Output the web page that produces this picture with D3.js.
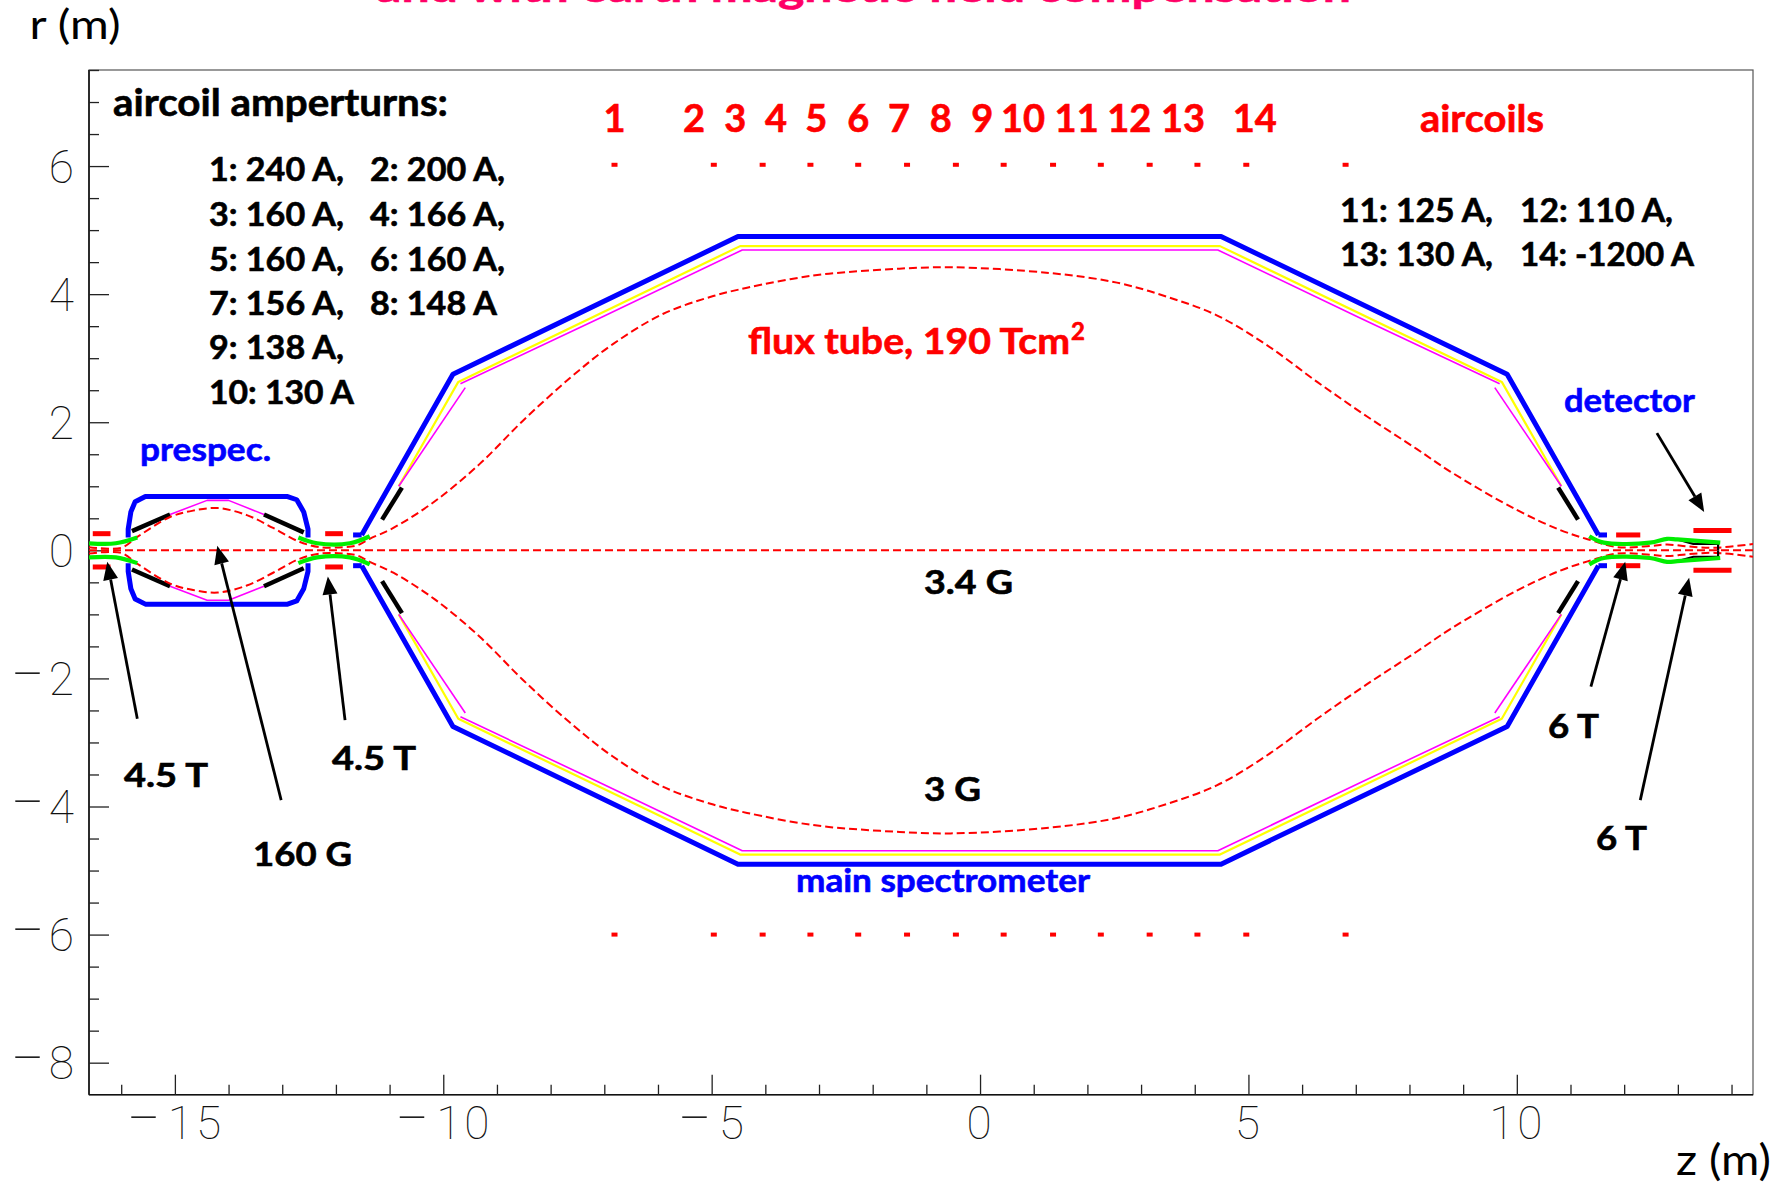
<!DOCTYPE html>
<html>
  <head>
    <meta charset="utf-8">
    <script src="https://cdnjs.cloudflare.com/ajax/libs/d3/7.8.5/d3.min.js"></script>
    <style type="text/css">
    body { margin: 0; background: white; }
    svg { display: block; }
    .note { font-family: Lato, sans-serif; font-weight: bold; stroke-width: 0.6; }
    .axis path { display: none; }
    .axis line { stroke: #222; stroke-width: 1.3; }
    .axis text { font-family: Roboto, sans-serif; font-weight: 100; font-size: 46px; fill: #111; }
    .axis--x text { letter-spacing: 3px; }
    </style>
  </head>
  <body>
    <script type="text/javascript">
      var w = 1785;
      var h = 1184;

      // axis ticks
      var zMajor = [-15, -10, -5, 0, 5, 10];
      var zMinor = [-16, -14, -13, -12, -11, -9, -8, -7, -6, -4, -3, -2, -1, 1, 2, 3, 4, 6, 7, 8, 9, 11, 12, 13, 14];
      var rMajor = [-8, -6, -4, -2, 0, 2, 4, 6];
      var rMinor = [-7.5, -7, -6.5, -5.5, -5, -4.5, -3.5, -3, -2.5, -1.5, -1, -0.5, 0.5, 1, 1.5, 2.5, 3, 3.5, 4.5, 5, 5.5, 6.5, 7, 7.5];

      // main vessel, upper half (the lower half is the mirror)
      var vesselZ = [-11.52, -9.82, -4.51, 4.49, 9.82, 11.52];
      var vesselR = [0.24, 2.75, 4.9, 4.9, 2.75, 0.24];
      var stubZ = [[-11.68, -11.52], [11.52, 11.68]];
      var stubR = [0.24, 0.24];
      var yellowZ = [-10.83, -9.72, -4.47, 4.47, 9.72, 10.83];
      var yellowR = [1.0, 2.63, 4.75, 4.75, 2.63, 1.0];
      var magentaZ = [-9.68, -7.05, -4.43, 4.43, 7.05, 9.68];
      var magentaR = [2.6, 3.64, 4.69, 4.69, 3.64, 2.6];
      var magentaSideZ = [[-10.83, -9.59], [10.83, 9.59]];
      var magentaSideR = [1.0, 2.54];
      var electrodeZ = [[-11.14, -10.77], [11.14, 10.77]];
      var electrodeR = [0.48, 0.98];

      // prespectrometer
      var preZ = [-15.87, -15.87, -15.82, -15.74, -15.55, -12.9, -12.73, -12.6, -12.52, -12.52];
      var preR = [0.2, 0.33, 0.6, 0.76, 0.84, 0.84, 0.79, 0.6, 0.33, 0.2];
      var preMagentaZ = [-15.09, -14.4, -14.0, -13.34];
      var preMagentaR = [0.56, 0.78, 0.78, 0.56];
      var preBlackZ = [[-15.8, -15.09], [-13.34, -12.6]];
      var preBlackR = [[0.3, 0.56], [0.56, 0.28]];

      // superconducting solenoid bore (green)
      var greenZ = [[-16.6, -16.1, -15.7], [-12.7, -12.35, -11.74, -11.37], [11.35, 11.62, 12.48, 12.8, 12.99, 13.79]];
      var greenR = [[0.11, 0.11, 0.2], [0.2, 0.11, 0.11, 0.22], [0.22, 0.12, 0.12, 0.18, 0.17, 0.12]];

      // detector outline
      var detZ = [12.99, 13.29, 13.75, 13.75];
      var detR = [0.17, 0.1, 0.1, 0];

      // solenoid coils
      var coilZ = [[-16.53, -16.2], [-12.2, -11.87], [11.85, 12.3], [13.29, 14.0]];
      var coilR = [0.26, 0.26, 0.24, 0.31];

      // aircoils
      var aircoilZ = [-6.81, -4.96, -4.05, -3.16, -2.27, -1.36, -0.45, 0.44, 1.36, 2.25, 3.16, 4.05, 4.96, 6.81];
      var aircoilR = [6.02, -6.0];

      // flux tube, upper half
      var fluxZ = [-16.6, -16.0, -15.7, -15.09, -14.66, -14.2, -13.66, -13.17, -12.7, -12.3, -11.87, -11.6, -11.37, -10.93, -10.15, -9.32, -8.52, -7.64, -6.84, -5.91, -4.97, -4.34, -3.11, -1.86, -0.55, 1.3, 2.55, 3.48, 4.41, 5.35, 6.28, 7.21, 8.14, 8.76, 10.0, 10.8, 11.37, 11.87, 12.5, 12.8, 13.2, 13.7, 14.4];
      var fluxR = [0.05, 0.04, 0.21, 0.52, 0.62, 0.66, 0.55, 0.35, 0.14, 0.05, 0.05, 0.08, 0.18, 0.35, 0.77, 1.35, 2.02, 2.69, 3.22, 3.69, 3.97, 4.1, 4.29, 4.38, 4.42, 4.33, 4.18, 3.96, 3.67, 3.2, 2.63, 2.09, 1.58, 1.23, 0.63, 0.32, 0.16, 0.05, 0.07, 0.09, 0.06, 0.04, 0.1];

      // arrows: tail and tip
      var arrowTailZ = [-15.7, -13.02, -11.83, 12.61, 11.38, 12.3];
      var arrowTailR = [-2.63, -3.9, -2.65, 1.83, -2.13, -3.9];
      var arrowTipZ = [-16.26, -14.21, -12.15, 13.49, 12.02, 13.21];
      var arrowTipR = [-0.18, 0.07, -0.41, 0.6, -0.18, -0.43];

      // texts
      var coilLabels = ["1", "2", "3", "4", "5", "6", "7", "8", "9", "10", "11", "12", "13", "14"];
      var coilLabelZ = [-6.81, -5.33, -4.56, -3.8, -3.05, -2.27, -1.51, -0.73, 0.04, 0.8, 1.8, 2.78, 3.78, 5.12];
      var noteText = ["aircoil amperturns:", "1: 240 A,", "2: 200 A,", "3: 160 A,", "4: 166 A,", "5: 160 A,", "6: 160 A,", "7: 156 A,", "8: 148 A", "9: 138 A,", "10: 130 A",
        "11: 125 A,", "12: 110 A,", "13: 130 A,", "14: -1200 A", "3.4 G", "3 G", "4.5 T", "4.5 T", "160 G", "6 T", "6 T"];
      var noteX = [113, 209, 370, 209, 370, 209, 370, 209, 370, 209, 209, 1340, 1520, 1340, 1520, 924, 924, 124, 332, 253, 1548, 1596];
      var noteY = [116, 181, 181, 226, 226, 271, 271, 315, 315, 359, 404, 222, 222, 266, 266, 594, 801, 787, 770, 866, 738, 850];
      var noteW = [335, 135, 135, 135, 135, 135, 135, 135, 127, 135, 145, 153, 153, 153, 174, 89, 57, 84, 84, 99, 51, 51];

      var svg = d3.select("body").append("svg")
                  .attr("width", w)
                  .attr("height", h);

      var x = d3.scaleLinear().domain([-16.6, 14.4]).range([89, 1753]);
      var y = d3.scaleLinear().domain([-8.5, 7.5]).range([1094.7, 70]);

      svg.append("clipPath").attr("id", "plot")
         .append("rect").attr("x", 89).attr("y", 70).attr("width", 1664).attr("height", 1024.7);

      // frame
      svg.append("rect").attr("x", 89).attr("y", 70).attr("width", 1664).attr("height", 1024.7)
         .attr("fill", "none").attr("stroke", "#555").attr("stroke-width", 1.2);
      svg.append("line").attr("x1", 89).attr("x2", 89).attr("y1", 70).attr("y2", 1094.7).attr("stroke", "#111").attr("stroke-width", 1.6);
      svg.append("line").attr("x1", 89).attr("x2", 1753).attr("y1", 1094.7).attr("y2", 1094.7).attr("stroke", "#111").attr("stroke-width", 1.6);

      // long thin minus like the original plot
      function wideMinus(g) {
        g.selectAll("text").each(function(d) {
          var t = d3.select(this).text(null);
          if (d < 0) t.append("tspan").attr("font-size", 60).text("\u2212");
          t.append("tspan").attr("dx", d < 0 ? 4 : 0).text(Math.abs(d));
        });
      }

      // axes
      svg.append("g").attr("class", "axis axis--x").attr("transform", "translate(0,1094.7)")
         .call(d3.axisBottom(x).tickValues(zMajor).tickSizeInner(-20).tickSizeOuter(0).tickPadding(12))
         .call(wideMinus);
      svg.append("g").attr("class", "axis").attr("transform", "translate(0,1094.7)")
         .call(d3.axisBottom(x).tickValues(zMinor).tickSizeInner(-10).tickSizeOuter(0).tickFormat(""));
      svg.append("g").attr("class", "axis").attr("transform", "translate(89,0)")
         .call(d3.axisLeft(y).tickValues(rMajor).tickSizeInner(-20).tickSizeOuter(0).tickPadding(15))
         .call(wideMinus)
         .selectAll("text").attr("dy", "0.35em");
      svg.append("g").attr("class", "axis").attr("transform", "translate(89,0)")
         .call(d3.axisLeft(y).tickValues(rMinor).tickSizeInner(-10).tickSizeOuter(0).tickFormat(""));

      var plot = svg.append("g").attr("clip-path", "url(#plot)");

      function trace(zs, rs, colour, width, sign, dash) {
        var line = d3.line().x(function(d) { return x(d[0]); }).y(function(d) { return y(sign * d[1]); });
        var path = plot.append("path")
            .attr("d", line(d3.zip(zs, rs)))
            .attr("fill", "none")
            .attr("stroke", colour)
            .attr("stroke-linejoin", "round")
            .attr("stroke-width", width);
        if (dash) path.attr("stroke-dasharray", dash);
        return path;
      }

      // both halves of a contour
      function both(zs, rs, colour, width, dash) {
        trace(zs, rs, colour, width, 1, dash);
        trace(zs, rs, colour, width, -1, dash);
      }

      function flat(v, n) { return d3.range(n).map(function() { return v; }); }

      // yellow, magenta, black then blue on top
      both(yellowZ, yellowR, "#ffff00", 2.2);
      both(magentaZ, magentaR, "#ff00ff", 1.6);
      magentaSideZ.forEach(function(z) { both(z, magentaSideR, "#ff00ff", 1.6); });
      electrodeZ.forEach(function(z) { both(z, electrodeR, "black", 4.5); });
      both(vesselZ, vesselR, "#0000ff", 5);
      stubZ.forEach(function(z) { both(z, stubR, "#0000ff", 5); });

      both(preZ, preR, "#0000ff", 5);
      both(preMagentaZ, preMagentaR, "#ff00ff", 1.6);
      preBlackZ.forEach(function(z, i) { both(z, preBlackR[i], "black", 4.5); });

      // flux tube and centre line
      var fluxLine = d3.line().curve(d3.curveCatmullRom)
                       .x(function(d) { return x(d[0]); });
      [1, -1].forEach(function(sign) {
        plot.append("path")
            .attr("d", fluxLine.y(function(d) { return y(sign * d[1]); })(d3.zip(fluxZ, fluxR)))
            .attr("fill", "none").attr("stroke", "#ff0000").attr("stroke-width", 2).attr("stroke-dasharray", "8,4");
      });
      trace([-16.6, 14.4], [0, 0], "#ff0000", 2, 1, "8,4");

      // coils
      coilZ.forEach(function(z, i) { both(z, flat(coilR[i], 2), "#ff0000", 5); });

      // detector
      both(detZ, detR, "black", 2.2);

      // green bore
      greenZ.forEach(function(z, i) {
        [1, -1].forEach(function(sign) {
          plot.append("path")
              .attr("d", fluxLine.y(function(d) { return y(sign * d[1]); })(d3.zip(z, greenR[i])))
              .attr("fill", "none").attr("stroke", "#00ee00").attr("stroke-width", 4.2);
        });
      });

      // aircoil markers
      aircoilR.forEach(function(r) {
        plot.selectAll(null).data(aircoilZ).enter().append("rect")
            .attr("x", function(d) { return x(d) - 3; })
            .attr("y", y(r) - 2)
            .attr("width", 6)
            .attr("height", 4)
            .attr("fill", "#ff0000");
      });

      // arrows
      arrowTipZ.forEach(function(tz, i) {
        var x0 = x(arrowTailZ[i]), y0 = y(arrowTailR[i]), x1 = x(tz), y1 = y(arrowTipR[i]);
        var len = Math.hypot(x1 - x0, y1 - y0), ux = (x1 - x0) / len, uy = (y1 - y0) / len;
        var bx = x1 - ux * 18, by = y1 - uy * 18;
        svg.append("line").attr("x1", x0).attr("y1", y0).attr("x2", bx).attr("y2", by)
           .attr("stroke", "black").attr("stroke-width", 2.8);
        svg.append("polygon")
           .attr("points", [[x1, y1], [bx - uy * 7.5, by + ux * 7.5], [bx + uy * 7.5, by - ux * 7.5]].join(" "))
           .attr("fill", "black");
      });

      function note(text, px, py, width, size, colour) {
        return svg.append("text").attr("class", "note")
           .attr("x", px).attr("y", py)
           .attr("font-size", size).attr("fill", colour).attr("stroke", colour)
           .attr("textLength", width).attr("lengthAdjust", "spacingAndGlyphs")
           .text(text);
      }

      noteText.forEach(function(t, i) {
        note(t, noteX[i], noteY[i], noteW[i], i == 0 ? 38 : 33, "black");
      });

      coilLabels.forEach(function(t, i) {
        svg.append("text").attr("class", "note").attr("x", x(coilLabelZ[i])).attr("y", 132)
           .attr("text-anchor", "middle").attr("font-size", 38).attr("fill", "#ff0000").attr("stroke", "#ff0000").text(t);
      });

      note("aircoils", 1420, 132, 124, 38, "#ff0000");
      note("flux tube, 190 Tcm", 748, 354, 322, 37, "#ff0000");
      svg.append("text").attr("class", "note").attr("x", 1071).attr("y", 340).attr("font-size", 24).attr("fill", "#ff0000").attr("stroke", "#ff0000").text("2");
      note("prespec.", 140, 461, 131, 33, "#0000ff");
      note("detector", 1564, 412, 131, 33, "#0000ff");
      note("main spectrometer", 796, 892, 294, 33, "#0000ff");

      note("and with earth magnetic field compensation", 376, 2, 975, 40, "#ff0066");

      svg.append("text").attr("x", 29.5).attr("y", 39).attr("font-family", "Lato, sans-serif").attr("font-size", 40)
         .attr("textLength", 91).attr("lengthAdjust", "spacingAndGlyphs").text("r (m)");
      svg.append("text").attr("x", 1676).attr("y", 1175).attr("font-family", "Lato, sans-serif").attr("font-size", 42)
         .attr("textLength", 95).attr("lengthAdjust", "spacingAndGlyphs").text("z (m)");
    </script>
  </body>
</html>
